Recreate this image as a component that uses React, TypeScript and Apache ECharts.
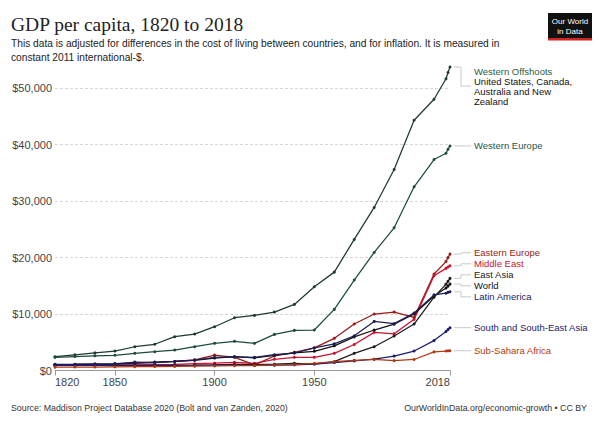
import React, { useEffect, useRef } from 'react';
import * as echarts from 'echarts';

const YEARS = [1820, 1830, 1840, 1850, 1860, 1870, 1880, 1890, 1900, 1910, 1920, 1930, 1940, 1950, 1960, 1970, 1980, 1990, 2000, 2010, 2016, 2017, 2018];

const westernOffshoots = [2440, 2780, 3120, 3450, 4210, 4650, 5990, 6460, 7760, 9350, 9760, 10350, 11710, 14830, 17430, 23220, 28890, 35610, 44340, 48060, 51700, 52800, 53770];
const westernEurope = [2330, 2480, 2600, 2700, 3040, 3330, 3630, 4210, 4810, 5170, 4810, 6400, 7110, 7170, 10830, 16020, 20920, 25280, 32540, 37380, 38500, 39200, 39790];
const easternEurope = [950, 1000, 1050, 1100, 1250, 1400, 1600, 1900, 2740, 2330, 1000, 2570, 3220, 4000, 5700, 8230, 10000, 10350, 9400, 17100, 19300, 20000, 20620];
const middleEast = [900, 920, 940, 960, 1000, 1050, 1100, 1200, 1300, 1450, 1270, 1980, 2330, 2330, 3040, 4600, 6760, 6500, 9060, 16800, 18100, 18350, 18550];
const eastAsia = [1000, 990, 970, 950, 930, 900, 920, 950, 1000, 1100, 1100, 1110, 1270, 1150, 1560, 3040, 4220, 6110, 8230, 13000, 15300, 15800, 16320];
const world = [1100, 1120, 1170, 1225, 1330, 1500, 1600, 1800, 2200, 2450, 2240, 2700, 3130, 3400, 4370, 5960, 7170, 8200, 10000, 13200, 14600, 14950, 15310];
const latinAmerica = [1050, 1070, 1100, 1150, 1500, 1400, 1600, 1860, 2330, 2400, 2330, 2800, 3100, 4000, 4720, 6160, 8700, 8300, 10200, 13400, 13700, 13850, 13950];
const southAsia = [900, 900, 890, 880, 870, 860, 880, 900, 950, 980, 900, 950, 1000, 1150, 1400, 1700, 2000, 2550, 3450, 5300, 6900, 7250, 7580];
const subSaharaAfrica = [600, 610, 620, 650, 680, 700, 720, 760, 800, 850, 880, 950, 1050, 1250, 1560, 1800, 1980, 1750, 1950, 3300, 3450, 3480, 3500];

const X_TICKS = [1820, 1850, 1900, 1950, 2018];

interface SeriesDef {
  name: string;
  values: number[];
  color: string;
  labelColor: string;
  extra?: string[];
}

const SERIES: SeriesDef[] = [
  { name: 'Western Offshoots', values: westernOffshoots, color: '#1f3a2e', labelColor: '#2a5c3c', extra: ['United States, Canada,', 'Australia and New', 'Zealand'] },
  { name: 'Western Europe', values: westernEurope, color: '#1d4a40', labelColor: '#1e5446' },
  { name: 'Eastern Europe', values: easternEurope, color: '#9a1b16', labelColor: '#9a1b16' },
  { name: 'Middle East', values: middleEast, color: '#cc1133', labelColor: '#cc1133' },
  { name: 'East Asia', values: eastAsia, color: '#1c1c1c', labelColor: '#1c1c1c' },
  { name: 'World', values: world, color: '#111111', labelColor: '#111111' },
  { name: 'Latin America', values: latinAmerica, color: '#1e1e58', labelColor: '#1e1e5c' },
  { name: 'South and South-East Asia', values: southAsia, color: '#1c1c70', labelColor: '#1c1c70' },
  { name: 'Sub-Sahara Africa', values: subSaharaAfrica, color: '#b03a12', labelColor: '#b23a15' },
];

const SANS = '"Liberation Sans", Arial, sans-serif';

// pushes overlapping labels apart, keeping each group centred on its targets
function dodge(items: { target: number; h: number; idx: number }[], minTop: number) {
  const sorted = [...items].sort((a, b) => a.target - b.target);
  let blocks = sorted.map((it) => ({ items: [it], h: it.h, top: Math.max(minTop, it.target - it.h / 2) }));
  let changed = true;
  while (changed) {
    changed = false;
    for (let i = 1; i < blocks.length; i++) {
      const a = blocks[i - 1];
      const b = blocks[i];
      if (a.top + a.h > b.top) {
        const merged = [...a.items, ...b.items];
        let off = 0;
        let sum = 0;
        merged.forEach((it) => {
          sum += it.target - off - it.h / 2;
          off += it.h;
        });
        const nb = { items: merged, h: a.h + b.h, top: Math.max(minTop, sum / merged.length) };
        blocks = [...blocks.slice(0, i - 1), nb, ...blocks.slice(i + 1)];
        changed = true;
        break;
      }
    }
  }
  const centers: number[] = [];
  blocks.forEach((bl) => {
    let off = 0;
    bl.items.forEach((it) => {
      centers[it.idx] = bl.top + off + it.h / 2;
      off += it.h;
    });
  });
  return centers;
}

const App: React.FC = () => {
  const chartRef = useRef<HTMLDivElement>(null);

  useEffect(() => {
    if (!chartRef.current) return;
    const chart = echarts.init(chartRef.current, null, { renderer: 'svg' });

    const option: echarts.EChartsOption = {
      animation: false,
      grid: { left: 55, right: 150, top: 88.3, bottom: 53.5, containLabel: false },
      xAxis: {
        type: 'value',
        min: 1820,
        max: 2018,
        axisLine: { show: true, lineStyle: { color: '#999', width: 1 } },
        axisTick: { show: true, length: 5, customValues: X_TICKS, lineStyle: { color: '#999' } },
        axisLabel: {
          customValues: X_TICKS,
          color: '#444',
          fontSize: 11,
          fontFamily: SANS,
          margin: 6,
          alignMinLabel: 'left',
          alignMaxLabel: 'right',
          formatter: (v: number) => String(v),
        },
        splitLine: { show: false },
      },
      yAxis: {
        type: 'value',
        min: 0,
        max: 50000,
        interval: 10000,
        axisLine: { show: false },
        axisTick: { show: false },
        axisLabel: {
          color: '#444',
          fontSize: 11,
          fontFamily: SANS,
          margin: 3,
          formatter: (v: number) => '$' + v.toLocaleString('en-US'),
        },
        splitLine: { show: true, lineStyle: { color: '#d6d6d6', type: [3, 2], width: 1 } },
      },
      series: SERIES.map((s) => ({
        name: s.name,
        type: 'line',
        clip: false,
        data: YEARS.map((y, i) => [y, s.values[i]]),
        symbol: 'circle',
        symbolSize: 3,
        showSymbol: true,
        lineStyle: { color: s.color, width: 1.25 },
        itemStyle: { color: s.color },
      })),
    };
    chart.setOption(option);

    // end-of-line labels and their connectors
    const last = YEARS.length - 1;
    const ends = SERIES.map((s) => chart.convertToPixel({ xAxisIndex: 0, yAxisIndex: 0 }, [YEARS[last], s.values[last]]) as number[]);
    const items = SERIES.map((s, idx) => ({ target: ends[idx][1], h: s.extra ? 40 : 11, idx }));
    const centers = dodge(items, 66);

    const graphic: any[] = [
      { type: 'text', x: 11, y: 24, style: { text: 'GDP per capita, 1820 to 2018', font: '19.5px "Liberation Serif", serif', fill: '#222', textVerticalAlign: 'middle' } },
      { type: 'text', x: 11, y: 43.5, style: { text: 'This data is adjusted for differences in the cost of living between countries, and for inflation. It is measured in', font: '10.2px ' + SANS, fill: '#222', textVerticalAlign: 'middle' } },
      { type: 'text', x: 11, y: 57, style: { text: 'constant 2011 international-$.', font: '10.2px ' + SANS, fill: '#222', textVerticalAlign: 'middle' } },
      { type: 'text', x: 11, y: 408, style: { text: 'Source: Maddison Project Database 2020 (Bolt and van Zanden, 2020)', font: '8.8px ' + SANS, fill: '#333', textVerticalAlign: 'middle' } },
      { type: 'text', x: 587, y: 408, style: { text: 'OurWorldInData.org/economic-growth \u2022 CC BY', font: '8.8px ' + SANS, fill: '#333', textAlign: 'right', textVerticalAlign: 'middle' } },
      { type: 'rect', shape: { x: 548, y: 13, width: 44, height: 27 }, style: { fill: '#111' } },
      { type: 'rect', shape: { x: 548, y: 38, width: 44, height: 2.5 }, style: { fill: '#ce261e' } },
      { type: 'text', x: 570, y: 21, style: { text: 'Our World', font: '8px ' + SANS, fill: '#fff', textAlign: 'center', textVerticalAlign: 'middle' } },
      { type: 'text', x: 570, y: 31, style: { text: 'in Data', font: '8px ' + SANS, fill: '#fff', textAlign: 'center', textVerticalAlign: 'middle' } },
    ];

    SERIES.forEach((s, idx) => {
      const [ex, ey] = ends[idx];
      const cy = centers[idx];
      graphic.push({
        type: 'polyline',
        shape: { points: [[ex + 4, ey], [ex + 11, ey], [ex + 11, cy], [ex + 21, cy]] },
        style: { stroke: '#c8c8c8', fill: null, lineWidth: 1 },
      });
      if (s.extra) {
        const lines = [s.name, ...s.extra];
        lines.forEach((t, k) => {
          graphic.push({ type: 'text', x: ex + 24, y: cy - 15 + k * 10, style: { text: t, font: '9.5px ' + SANS, fill: k === 0 ? s.labelColor : '#111', textVerticalAlign: 'middle' } });
        });
      } else {
        graphic.push({ type: 'text', x: ex + 24, y: cy, style: { text: s.name, font: '9.5px ' + SANS, fill: s.labelColor, textVerticalAlign: 'middle' } });
      }
    });

    chart.setOption({ graphic });

    return () => {
      chart.dispose();
    };
  }, []);

  return <div ref={chartRef} style={{ position: 'absolute', left: 0, top: 0, width: 600, height: 424 }} />;
};

export default App;
